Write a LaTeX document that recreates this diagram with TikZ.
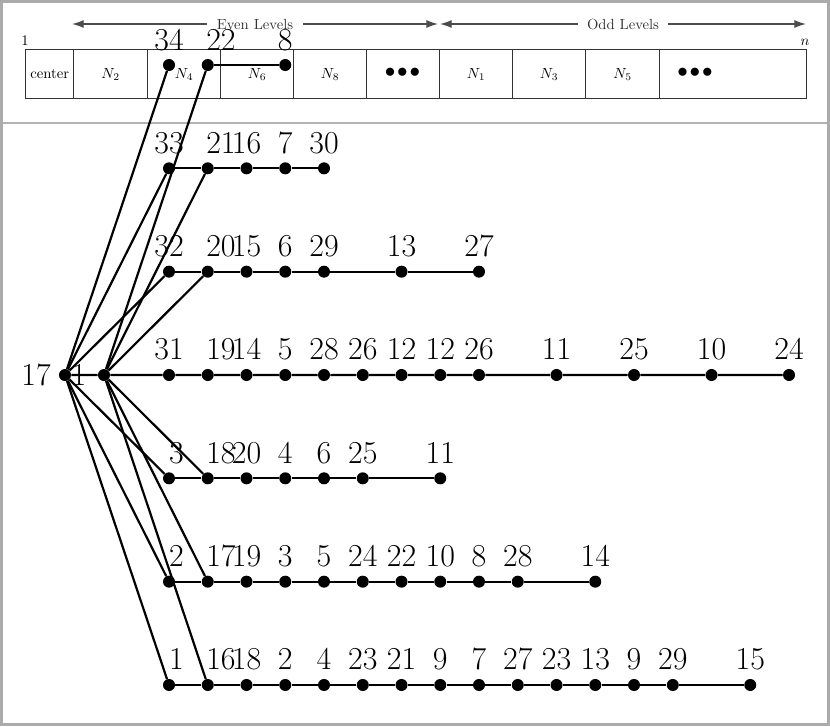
\documentclass[tikz,border=0pt]{standalone}
\usetikzlibrary{arrows.meta}
\newcommand\rowdots[2]{%
  \foreach \c/\l in {#2}{%
    \ifnum\c=0 \def\anc{base east}\def\lx{184}%
    \else\ifnum\c=1 \def\anc{base west}\def\lx{206}%
    \else\def\anc{base}\pgfmathsetmacro\lx{169+38.75*\c}\fi\fi
    \node[dot] (r#1-\c) at ({169+38.75*\c},{65+103.33*#1}) {};
    \node[numlab,anchor=\anc] (t#1-\c) at ({\lx},{50+103.33*#1}) {\l};
  }}
\begin{document}
\begin{tikzpicture}[x=0.6826pt,y=-0.6826pt,
  dot/.style={circle,fill=black,inner sep=0pt,minimum size=8.2pt},
  edge/.style={line width=1.5pt,black},
  numlab/.style={anchor=base,inner sep=0pt,font=\fontsize{21.8}{26}\selectfont},
  cell/.style={draw=black!80,line width=0.9pt,anchor=north west,inner sep=0pt,minimum height=33.45pt},
  levarrow/.style={draw=black!70,line width=0.9pt,{Latex[length=8pt,width=5.5pt]}-{Latex[length=8pt,width=5.5pt]}},
  levtext/.style={fill=white,inner xsep=6.5pt,inner ysep=1pt,text=black!80},
  cornerlab/.style={anchor=base,inner sep=0pt},
  dotsym/.style={inner sep=0pt,font=\Large},
]
\useasboundingbox (0,0) rectangle (830,726);
% frame and separator
\draw[black!33,line width=2pt] (1.5,1.5) rectangle (828.5,724.5);
\draw[black!30,line width=0.7pt] (3,123) -- (827,123);

% level arrows
\coordinate (eL) at (72,24);
\coordinate (eR) at (438,24);
\coordinate (oL) at (440,24);
\coordinate (oR) at (806,24);
\draw[levarrow] (eL) -- node[levtext] (evtxt) {Even Levels} (eR);
\draw[levarrow] (oL) -- node[levtext] (odtxt) {Odd Levels} (oR);

% array cells
\node[cell,minimum width=32.77pt] (cC) at (25,49) {center};
\node[cell,minimum width=50.51pt] (c2) at (73,49) {$N_2$};
\node[cell,minimum width=49.83pt] (c4) at (147,49) {$N_4$};
\node[cell,minimum width=49.83pt] (c6) at (220,49) {$N_6$};
\node[cell,minimum width=49.83pt] (c8) at (293,49) {$N_8$};
\node[cell,minimum width=49.83pt] (cE) at (366,49) {};
\node[cell,minimum width=49.83pt] (c1) at (439,49) {$N_1$};
\node[cell,minimum width=49.83pt] (c3) at (512,49) {$N_3$};
\node[cell,minimum width=50.51pt] (c5) at (585,49) {$N_5$};
\node[cell,minimum width=100.34pt] (cO) at (659,49) {};
\node[dotsym] (dE) at (402.5,72.5) {$\mathord{\bullet}\mkern1.5mu\mathord{\bullet}\mkern1.5mu\mathord{\bullet}$};
\node[dotsym] (dO) at (695,72.5) {$\mathord{\bullet}\mkern1.5mu\mathord{\bullet}\mkern1.5mu\mathord{\bullet}$};
\node[cornerlab] (one) at (25,45) {1};
\node[cornerlab] (enn) at (805,45) {$n$};

% roots
\node[dot] (n17) at (65,375) {};
\node[dot] (n1) at (104,375) {};
\node[numlab] (t17) at (36,385) {17};
\node[numlab] (t1) at (79,385) {1};

% rows
\rowdots{0}{0/34,1/22,3/8}
\rowdots{1}{0/33,1/21,2/16,3/7,4/30}
\rowdots{2}{0/32,1/20,2/15,3/6,4/29,6/13,8/27}
\rowdots{3}{0/31,1/19,2/14,3/5,4/28,5/26,6/12,7/12,8/26,10/11,12/25,14/10,16/24}
\rowdots{4}{0/3,1/18,2/20,3/4,4/6,5/25,7/11}
\rowdots{5}{0/2,1/17,2/19,3/3,4/5,5/24,6/22,7/10,8/8,9/28,11/14}
\rowdots{6}{0/1,1/16,2/18,3/2,4/4,5/23,6/21,7/9,8/7,9/27,10/23,11/13,12/9,13/29,15/15}

% horizontal chains
\draw[edge] (r0-1) -- (r0-3);
\draw[edge] (r1-0) -- (r1-1) -- (r1-2) -- (r1-3) -- (r1-4);
\draw[edge] (r2-0) -- (r2-1) -- (r2-2) -- (r2-3) -- (r2-4) -- (r2-6) -- (r2-8);
\draw[edge] (n17) -- (n1) -- (r3-0) -- (r3-1) -- (r3-2) -- (r3-3) -- (r3-4) -- (r3-5) -- (r3-6) -- (r3-7) -- (r3-8) -- (r3-10) -- (r3-12) -- (r3-14) -- (r3-16);
\draw[edge] (r4-0) -- (r4-1) -- (r4-2) -- (r4-3) -- (r4-4) -- (r4-5) -- (r4-7);
\draw[edge] (r5-0) -- (r5-1) -- (r5-2) -- (r5-3) -- (r5-4) -- (r5-5) -- (r5-6) -- (r5-7) -- (r5-8) -- (r5-9) -- (r5-11);
\draw[edge] (r6-0) -- (r6-1) -- (r6-2) -- (r6-3) -- (r6-4) -- (r6-5) -- (r6-6) -- (r6-7) -- (r6-8) -- (r6-9) -- (r6-10) -- (r6-11) -- (r6-12) -- (r6-13) -- (r6-15);

% root fans
\foreach \r in {0,1,2,4,5,6}{
  \draw[edge] (n17) -- (r\r-0);
  \draw[edge] (n1) -- (r\r-1);
}
\end{tikzpicture}
\end{document}
